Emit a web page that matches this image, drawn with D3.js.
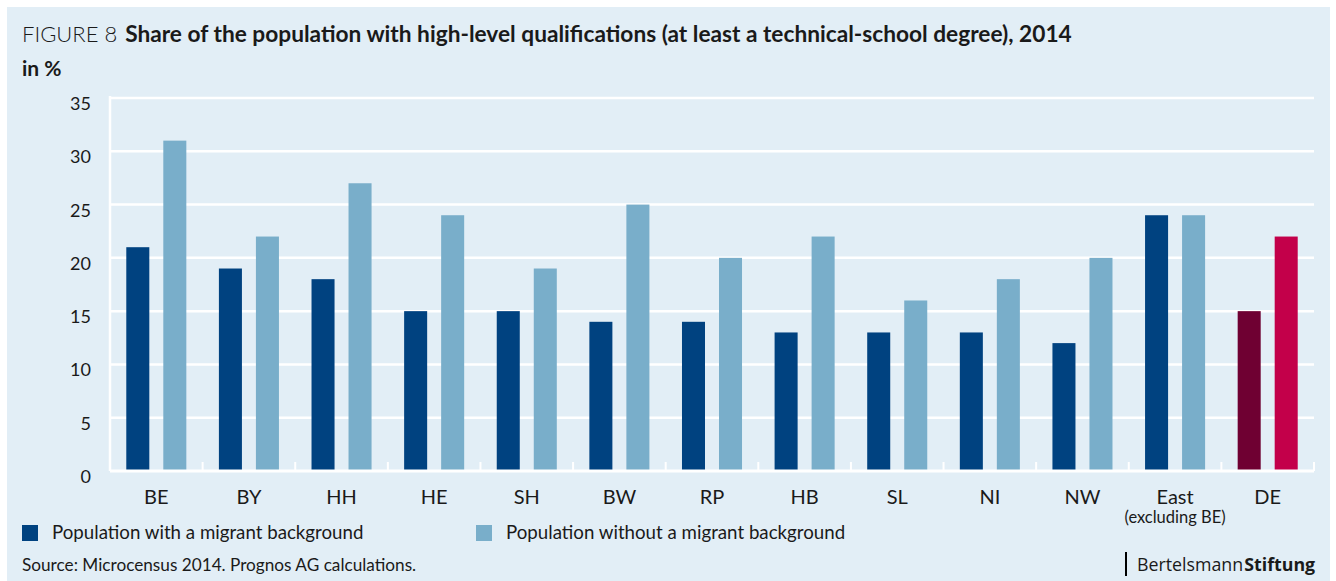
<!DOCTYPE html>
<html>
<head>
<meta charset="utf-8">
<title>Figure 8</title>
<script src="https://cdn.jsdelivr.net/npm/d3@7"></script>
<style>
  body { margin: 0; background: #fff; }
  svg { display: block; font-family: Lato, "Open Sans", sans-serif; }
  text { fill: #1a1a1a; }
</style>
</head>
<body>
<script>
// data
var states = ["BE", "BY", "HH", "HE", "SH", "BW", "RP", "HB", "SL", "NI", "NW", "East", "DE"];
var withMigrant = [21, 19, 18, 15, 15, 14, 14, 13, 13, 13, 12, 24, 15];
var withoutMigrant = [31, 22, 27, 24, 19, 25, 20, 22, 16, 18, 20, 24, 22];
var yTicks = [0, 5, 10, 15, 20, 25, 30, 35];
var seriesNames = ["Population with a migrant background", "Population without a migrant background"];

var w = 1336, h = 581;
var margin = {left: 110, right: 22, top: 98, bottom: 110};

var svg = d3.select("body").append("svg").attr("width", w).attr("height", h);

// background panel
svg.append("rect").attr("x", 7).attr("y", 7).attr("width", w - 13).attr("height", h - 7)
  .attr("fill", "#e2eef6");

var x0 = d3.scaleBand().domain(states).range([margin.left, w - margin.right]);
var x1 = d3.scaleBand().domain([0, 1]).range([0, x0.bandwidth()])
  .paddingInner(0.378).paddingOuter(0.44);
var y = d3.scaleLinear().domain([0, 35]).range([h - margin.bottom, margin.top]);

// grid lines
svg.append("g").selectAll("line").data(yTicks.filter(function(d) { return d > 0; })).enter()
  .append("line")
  .attr("x1", margin.left).attr("x2", w - margin.right)
  .attr("y1", function(d) { return y(d); }).attr("y2", function(d) { return y(d); })
  .attr("stroke", "#fff").attr("stroke-width", 2.5);

// y labels
svg.append("g").selectAll("text").data(yTicks).enter().append("text")
  .attr("x", 91).attr("y", function(d) { return y(d) + 12; })
  .attr("text-anchor", "end").attr("font-size", 18)
  .text(function(d) { return d; });

// left axis line
svg.append("line").attr("x1", margin.left).attr("x2", margin.left)
  .attr("y1", y(35) - 2).attr("y2", y(0))
  .attr("stroke", "#fff").attr("stroke-width", 2.5);

// bars
var colors = ["#004280", "#79aeca"];
var deColors = ["#6f0032", "#c3004a"];
var groups = svg.append("g").selectAll("g").data(states).enter().append("g")
  .attr("transform", function(d) { return "translate(" + x0(d) + ",0)"; });
groups.selectAll("rect")
  .data(function(d, i) { return [{k: 0, v: withMigrant[i], s: d}, {k: 1, v: withoutMigrant[i], s: d}]; })
  .enter().append("rect")
  .attr("x", function(d) { return x1(d.k); })
  .attr("width", x1.bandwidth())
  .attr("y", function(d) { return y(d.v); })
  .attr("height", function(d) { return y(0) - y(d.v); })
  .attr("fill", function(d) { return d.s === "DE" ? deColors[d.k] : colors[d.k]; });

// baseline with ticks between groups
svg.append("line").attr("x1", margin.left).attr("x2", w - margin.right)
  .attr("y1", y(0)).attr("y2", y(0)).attr("stroke", "#fff").attr("stroke-width", 3);
svg.append("g").selectAll("line").data(states.slice(1).concat(["end"])).enter().append("line")
  .attr("x1", function(d) { return d === "end" ? w - margin.right : x0(d); })
  .attr("x2", function(d) { return d === "end" ? w - margin.right : x0(d); })
  .attr("y1", y(0) - 9).attr("y2", y(0))
  .attr("stroke", "#fff").attr("stroke-width", 2);

// x labels
svg.append("g").selectAll("text").data(states).enter().append("text")
  .attr("x", function(d) { return x0(d) + x0.bandwidth() / 2; })
  .attr("y", 504).attr("text-anchor", "middle").attr("font-size", 20)
  .text(function(d) { return d; });
svg.append("text").attr("x", x0("East") + x0.bandwidth() / 2).attr("y", 523)
  .attr("text-anchor", "middle").attr("font-size", 16.5).text("(excluding BE)");

// title
var title = svg.append("text").attr("x", 22).attr("y", 42);
title.append("tspan").attr("font-weight", 300).attr("font-size", 22).text("FIGURE 8 ");
title.append("tspan").attr("font-weight", 700).attr("font-size", 22.7).attr("dx", 2)
  .text("Share of the population with high-level qualifications (at least a technical-school degree), 2014");
svg.append("text").attr("x", 22).attr("y", 76).attr("font-size", 21).attr("font-weight", 700).text("in %");

// legend
var legendX = [22, 476];
var legend = svg.append("g").selectAll("g").data(seriesNames).enter().append("g")
  .attr("transform", function(d, i) { return "translate(" + legendX[i] + ",525)"; });
legend.append("rect").attr("width", 16).attr("height", 16)
  .attr("fill", function(d, i) { return colors[i]; });
legend.append("text").attr("x", 30).attr("y", 14).attr("font-size", 18.7)
  .text(function(d) { return d; });

// source
svg.append("text").attr("x", 22).attr("y", 571).attr("font-size", 17.2)
  .text("Source: Microcensus 2014. Prognos AG calculations.");

// logo
svg.append("rect").attr("x", 1125).attr("y", 552).attr("width", 2).attr("height", 24).attr("fill", "#000");
var logo = svg.append("text").attr("x", 1137).attr("y", 571).attr("font-size", 17.8)
  .attr("font-family", "'Open Sans', sans-serif");
logo.append("tspan").text("Bertelsmann");
logo.append("tspan").attr("font-weight", 700).attr("dx", 1).text("Stiftung");
</script>
</body>
</html>
